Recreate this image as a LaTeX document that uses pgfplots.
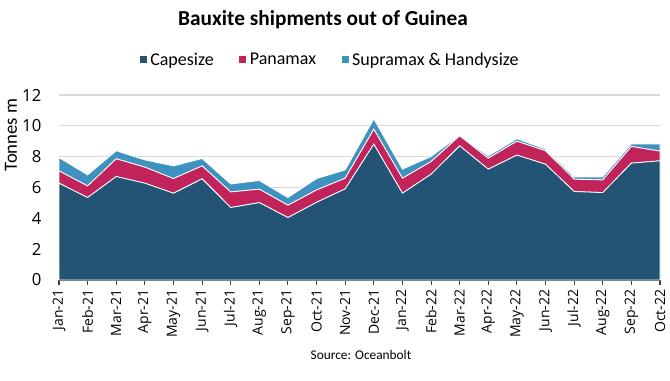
\documentclass[border=0pt]{standalone}
\usepackage{pgfplots}
\pgfplotsset{compat=1.18}
\usepackage{fontspec}
\setmainfont{Carlito}
\newfontfamily\tickfont{Open Sans}
\definecolor{cape}{RGB}{35,84,117}
\definecolor{pana}{RGB}{192,36,90}
\definecolor{supra}{RGB}{62,146,192}
\begin{document}
\begin{tikzpicture}[x=0.75pt,y=0.75pt]
\def\u{0.75pt}
\begin{axis}[
  at={(0,0)}, anchor=origin,
  scale only axis, width=601*\u, height=185*\u,
  xmin=0, xmax=21, ymin=0, ymax=12,
  ytick={0,2,...,12},
  xtick={0,...,21},
  xticklabels={Jan-21,Feb-21,Mar-21,Apr-21,May-21,Jun-21,Jul-21,Aug-21,Sep-21,Oct-21,Nov-21,Dec-21,Jan-22,Feb-22,Mar-22,Apr-22,May-22,Jun-22,Jul-22,Aug-22,Sep-22,Oct-22},
  x tick label style={rotate=90, anchor=east, font=\tickfont\fontsize{10.5}{12}\selectfont},
  y tick label style={font=\tickfont\fontsize{12.5}{14}\selectfont},
  /pgf/number format/assume math mode=true,
  axis x line*=bottom, axis y line*=left,
  x axis line style={draw=black!75, line width=0.8pt, -},
  y axis line style={draw=none},
  xtick style={draw=black!75, line width=0.8pt},
  major tick length=5*\u,
  tick align=outside,
  ymajorgrids, grid style={draw=black!15, line width=0.8pt},
  ytick style={draw=none},
  yticklabel style={xshift=-8*\u},
  stack plots=y,
  area style,
  axis on top=false,
  legend style={draw=none, fill=none, at={(271*\u,220*\u)}, anchor=center, legend columns=3,
    font=\fontsize{13.5}{15}\selectfont,
    /tikz/every even column/.append style={column sep=22*\u}},
  legend image code/.code={\fill[#1] (0,-3.5*\u) rectangle (8*\u,4.5*\u);},
  legend cell align=left,
]
\addplot[fill=cape, draw=white, line width=0.6pt] coordinates {
(0,6.28)(1,5.35)(2,6.71)(3,6.28)(4,5.63)(5,6.56)(6,4.70)(7,5.02)(8,4.05)(9,5.04)(10,5.91)(11,8.81)(12,5.63)(13,6.86)(14,8.70)(15,7.19)(16,8.10)(17,7.51)(18,5.74)(19,5.67)(20,7.58)(21,7.73)} \closedcycle;
\addlegendentry{Capesize}
\addplot[fill=pana, draw=white, line width=0.6pt] coordinates {
(0,0.80)(1,0.75)(2,1.15)(3,1.04)(4,0.95)(5,0.84)(6,1.01)(7,0.87)(8,0.80)(9,0.80)(10,0.69)(11,0.97)(12,0.97)(13,0.82)(14,0.65)(15,0.71)(16,0.90)(17,0.87)(18,0.80)(19,0.82)(20,1.08)(21,0.63)} \closedcycle;
\addlegendentry{Panamax}
\addplot[fill=supra, draw=white, line width=0.6pt] coordinates {
(0,0.86)(1,0.72)(2,0.52)(3,0.47)(4,0.82)(5,0.48)(6,0.52)(7,0.56)(8,0.50)(9,0.74)(10,0.54)(11,0.67)(12,0.59)(13,0.33)(14,0.04)(15,0.15)(16,0.16)(17,0.11)(18,0.15)(19,0.20)(20,0.17)(21,0.47)} \closedcycle;
\addlegendentry{Supramax \& Handysize}
\end{axis}
\node[font=\bfseries\fontsize{16}{18}\selectfont] at (264,260) {Bauxite shipments out of Guinea};
\node[rotate=90, font=\fontsize{14}{16}\selectfont] at (-48,145) {Tonnes m};
\node[font=\fontsize{10}{12}\selectfont] at (302,-75) {Source: Oceanbolt};
\path (-59,-100) rectangle (611,280);
\end{tikzpicture}
\end{document}
